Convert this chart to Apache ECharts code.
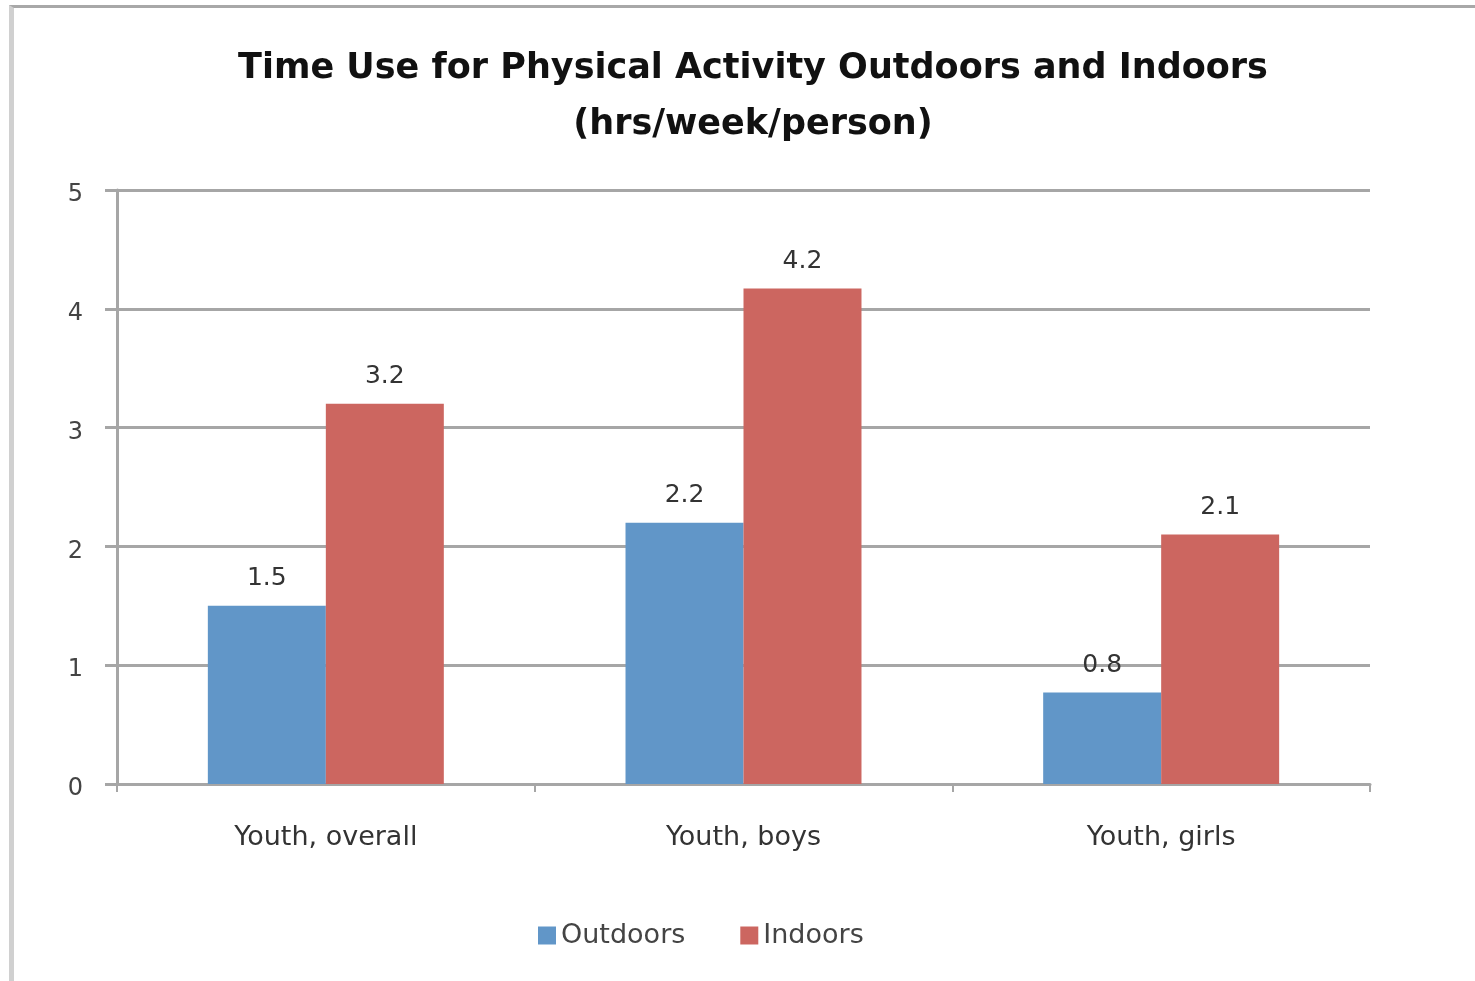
<!DOCTYPE html>
<html>
<head>
<meta charset="utf-8">
<title>Time Use for Physical Activity</title>
<script src="https://cdn.jsdelivr.net/npm/echarts@6/dist/echarts.min.js"></script>
<style>
  html, body { margin: 0; padding: 0; background: #fff; }
  #frame {
    position: absolute; left: 9px; top: 5px; width: 1466px; height: 976px;
    border-left: 5px solid #d0d0d0; border-top: 3px solid #a8a8a8; box-sizing: border-box;
  }
  #chart { position: absolute; left: 0; top: 0; width: 1475px; height: 981px; }
</style>
</head>
<body>
<div id="frame"></div>
<div id="chart"></div>
<script>
// categories and values (hrs/week/person)
const categories = ['Youth, overall', 'Youth, boys', 'Youth, girls'];
const outdoors = [1.5, 2.2, 0.77];
const indoors = [3.2, 4.17, 2.1];
const yTicks = [0, 1, 2, 3, 4, 5];

const chart = echarts.init(document.getElementById('chart'));

const labelStyle = {
  show: true,
  position: 'top',
  distance: 15,
  fontFamily: 'DejaVu Sans',
  fontSize: 25,
  color: '#333',
  formatter: (p) => p.value.toFixed(1)
};

chart.setOption({
  animation: false,
  title: {
    text: 'Time Use for Physical Activity Outdoors and Indoors\n(hrs/week/person)',
    left: 748,
    top: 36,
    textAlign: 'center',
    textStyle: {
      fontFamily: 'DejaVu Sans',
      fontWeight: 'bold',
      fontSize: 35,
      lineHeight: 56,
      color: '#111'
    }
  },
  legend: {
    bottom: 27,
    left: 533,
    itemWidth: 18,
    itemHeight: 18,
    itemGap: 55,
    icon: 'rect',
    textStyle: { fontFamily: 'DejaVu Sans', fontSize: 27, color: '#444' },
    data: ['Outdoors', 'Indoors']
  },
  grid: { left: 117, right: 105, top: 190, bottom: 197 },
  xAxis: {
    type: 'category',
    data: categories,
    axisLine: { lineStyle: { color: '#a6a6a6', width: 3 } },
    axisTick: { show: true, length: 8, lineStyle: { color: '#a6a6a6', width: 2 } },
    axisLabel: {
      margin: 40,
      fontFamily: 'DejaVu Sans',
      fontSize: 27,
      color: '#333'
    }
  },
  yAxis: {
    type: 'value',
    min: yTicks[0],
    max: yTicks[yTicks.length - 1],
    interval: 1,
    axisLine: { show: true, lineStyle: { color: '#a6a6a6', width: 3 } },
    axisTick: { show: true, length: 12, lineStyle: { color: '#a6a6a6', width: 3 } },
    axisLabel: {
      margin: 34,
      verticalAlign: 'top',
      lineHeight: 24,
      padding: [-7, 0, 0, 0],
      fontFamily: 'DejaVu Sans',
      fontSize: 24,
      color: '#444'
    },
    splitLine: { lineStyle: { color: '#a6a6a6', width: 3 } }
  },
  series: [
    {
      name: 'Outdoors',
      type: 'bar',
      data: outdoors,
      barGap: '0%',
      barCategoryGap: '43.5%',
      itemStyle: { color: '#6196c8' },
      label: labelStyle
    },
    {
      name: 'Indoors',
      type: 'bar',
      data: indoors,
      itemStyle: { color: '#cc6660' },
      label: labelStyle
    }
  ]
});

window.addEventListener('resize', () => chart.resize());
</script>
</body>
</html>
